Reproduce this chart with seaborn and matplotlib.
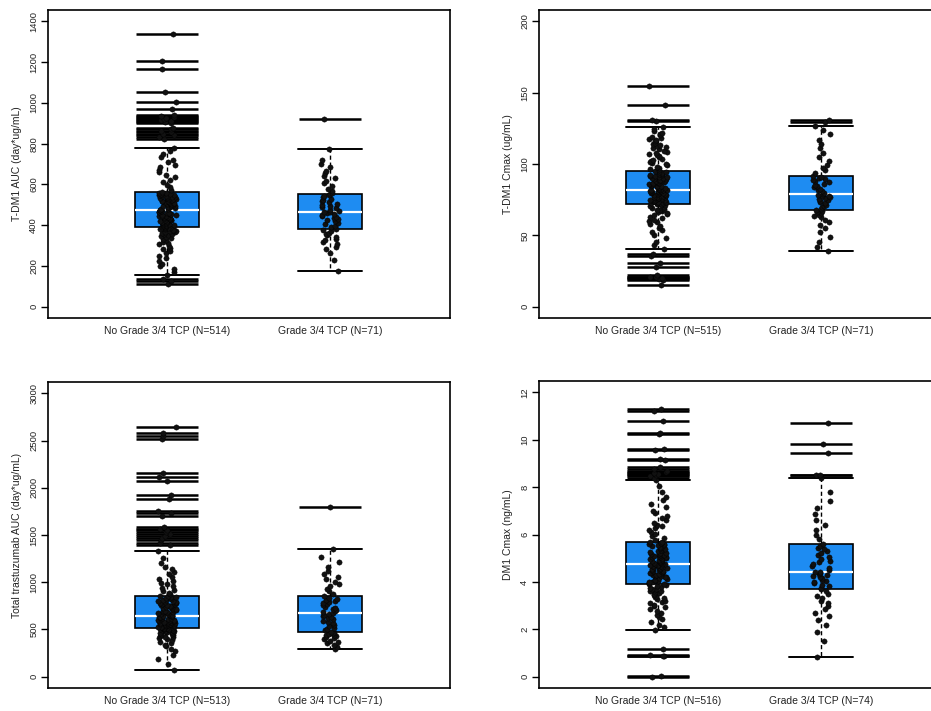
import numpy as np
import pandas as pd
import matplotlib
matplotlib.use("Agg")
import matplotlib.pyplot as plt
import seaborn as sns

# ---------------- data ----------------
groups_auc = ["No Grade 3/4 TCP (N=514)", "Grade 3/4 TCP (N=71)"]
groups_cmax = ["No Grade 3/4 TCP (N=515)", "Grade 3/4 TCP (N=71)"]
groups_tt = ["No Grade 3/4 TCP (N=513)", "Grade 3/4 TCP (N=71)"]
groups_dm1 = ["No Grade 3/4 TCP (N=516)", "Grade 3/4 TCP (N=74)"]

ylabel_auc = "T-DM1 AUC (day*ug/mL)"
ylabel_cmax = "T-DM1 Cmax (ug/mL)"
ylabel_tt = "Total trastuzumab AUC (day*ug/mL)"
ylabel_dm1 = "DM1 Cmax (ng/mL)"

yticks_auc = [0, 200, 400, 600, 800, 1000, 1200, 1400]
yticks_cmax = [0, 50, 100, 150, 200]
yticks_tt = [0, 500, 1000, 1500, 2000, 2500, 3000]
yticks_dm1 = [0, 2, 4, 6, 8, 10, 12]

auc_no = [
    112, 124, 135, 155, 168, 183, 197, 211, 224, 237,
    249, 261, 272, 281, 290, 298, 305, 313, 319, 326,
    331, 337, 342, 346, 351, 355, 358, 362, 365, 368,
    371, 373, 376, 378, 380, 382, 384, 386, 388, 391,
    393, 395, 397, 399, 401, 403, 405, 407, 409, 411,
    413, 415, 417, 419, 421, 423, 425, 427, 429, 431,
    433, 435, 437, 439, 441, 443, 445, 447, 449, 451,
    453, 455, 457, 459, 461, 463, 465, 467, 469, 472,
    475, 478, 481, 484, 487, 490, 492, 494, 496, 498,
    500, 502, 504, 506, 508, 510, 512, 514, 516, 518,
    520, 522, 524, 526, 528, 530, 532, 534, 536, 538,
    540, 542, 544, 546, 548, 550, 552, 554, 556, 559,
    562, 572, 585, 597, 610, 622, 636, 648, 661, 672,
    686, 697, 711, 722, 736, 748, 763, 780,
    825, 832, 840, 848, 855, 862, 870, 878, 900, 905,
    910, 915, 920, 925, 930, 935, 940, 972, 1003, 1054,
    1165, 1206, 1340,
]
auc_g34 = [
    173, 228, 262, 281, 295, 305, 318, 326, 334, 341,
    350, 356, 363, 370, 377, 383, 390, 398, 405, 412,
    418, 424, 430, 436, 441, 446, 450, 454, 458, 462,
    465, 470, 476, 482, 488, 494, 500, 506, 512, 518,
    524, 530, 536, 542, 547, 552, 558, 566, 578, 592,
    606, 618, 630, 642, 655, 668, 685, 700, 720, 772,
    920,
]

cmax_no = [
    15, 19, 19.5, 20, 20.5, 21, 22, 28, 30.5, 35.5,
    37, 40.5, 43, 45.5, 48, 50, 52, 53.5, 55, 56.5,
    58, 59, 60, 61, 62, 63, 64, 64.8, 65.5, 66.2,
    66.8, 67.4, 68, 68.6, 69.2, 69.8, 70.4, 70.9, 71.4, 71.8,
    72.1, 72.4, 72.6, 72.9, 73.2, 73.4, 73.7, 74.0, 74.2, 74.5,
    74.8, 75.0, 75.3, 75.6, 75.9, 76.1, 76.4, 76.7, 77.0, 77.2,
    77.5, 77.8, 78.0, 78.3, 78.6, 78.9, 79.1, 79.4, 79.7, 80.0,
    80.2, 80.4, 80.6, 80.8, 81.0, 81.2, 81.4, 81.5, 81.7, 81.8,
    81.9, 82.2, 82.5, 82.8, 83.1, 83.4, 83.7, 84.0, 84.3, 84.6,
    84.9, 85.2, 85.5, 85.8, 86.1, 86.4, 86.7, 87.0, 87.3, 87.6,
    87.9, 88.2, 88.5, 88.8, 89.1, 89.4, 89.7, 90.0, 90.3, 90.6,
    90.9, 91.3, 91.7, 92.1, 92.5, 92.9, 93.3, 93.7, 94.1, 94.6,
    95.0, 95.8, 96.6, 97.4, 98.2, 99.0, 99.8, 100.6, 101.4, 102.2,
    103.0, 103.8, 104.6, 105.4, 106.2, 107.0, 107.8, 108.6, 109.4, 110.2,
    111.0, 111.8, 112.6, 113.4, 114.2, 115.0, 115.8, 116.6, 117.4, 118.2,
    119.0, 120.0, 121.0, 122.0, 123.0, 124.2, 125.8,
    130, 131, 141.5, 155,
]
cmax_g34 = [
    38.8, 41.5, 45, 49, 52, 55, 57.5, 59.5, 61, 62.5,
    63.5, 64.5, 65.5, 66.3, 67.0, 67.6, 68.5, 69.5, 70.5, 71.5,
    72.3, 73.1, 73.9, 74.6, 75.3, 76.0, 76.7, 77.3, 77.9, 78.5,
    79.1, 80.0, 80.9, 81.8, 82.7, 83.6, 84.5, 85.4, 86.3, 87.2,
    88.0, 88.8, 89.6, 90.4, 91.2, 91.9, 93.5, 95.5, 97.5, 99.5,
    102, 105, 108, 111, 114, 117, 121, 124, 126.5, 129.2,
    131,
]

tt_no = [
    66, 135, 190, 232, 268, 296, 320, 340, 357, 372,
    385, 396, 406, 415, 423, 430, 437, 443, 449, 455,
    460, 465, 470, 474, 478, 482, 486, 489, 492, 495,
    498, 501, 504, 506, 508, 510, 512, 514, 516, 518,
    519, 522, 525, 528, 531, 534, 537, 540, 543, 546,
    549, 552, 555, 558, 561, 564, 567, 570, 573, 576,
    579, 582, 585, 588, 591, 594, 597, 600, 604, 608,
    612, 616, 620, 624, 628, 632, 635, 638, 641, 643,
    645, 650, 655, 660, 665, 670, 675, 680, 685, 690,
    695, 700, 705, 710, 715, 720, 725, 730, 735, 740,
    745, 750, 755, 760, 765, 770, 775, 780, 786, 792,
    798, 804, 810, 816, 822, 828, 834, 840, 846, 851,
    856, 872, 888, 905, 922, 940, 958, 976, 995, 1015,
    1035, 1058, 1082, 1108, 1135, 1165, 1200, 1260, 1330,
    1389, 1420, 1445, 1470, 1490, 1510, 1530, 1550, 1565, 1580,
    1705, 1730, 1750, 1880, 1920, 2070, 2110, 2160, 2520, 2545,
    2575, 2640,
]
tt_g34 = [
    298, 318, 335, 352, 368, 382, 395, 407, 418, 428,
    437, 445, 452, 459, 466, 477, 490, 505, 520, 535,
    550, 565, 580, 594, 608, 620, 632, 644, 655, 663,
    670, 682, 694, 706, 718, 730, 742, 754, 766, 778,
    790, 802, 813, 824, 835, 856, 880, 905, 930, 955,
    980, 1005, 1030, 1060, 1090, 1120, 1160, 1210, 1270, 1354,
    1800,
]

dm1_no = [
    0.0, 0.02, 0.85, 0.88, 0.92, 1.18, 1.95, 2.08, 2.2, 2.32,
    2.43, 2.53, 2.62, 2.7, 2.78, 2.85, 2.92, 2.98, 3.04, 3.1,
    3.16, 3.21, 3.26, 3.31, 3.36, 3.4, 3.44, 3.48, 3.52, 3.56,
    3.6, 3.63, 3.66, 3.69, 3.72, 3.75, 3.78, 3.82, 3.86, 3.9,
    3.92, 3.95, 3.98, 4.01, 4.04, 4.07, 4.1, 4.13, 4.16, 4.19,
    4.22, 4.24, 4.26, 4.28, 4.3, 4.32, 4.34, 4.36, 4.38, 4.4,
    4.42, 4.44, 4.46, 4.48, 4.5, 4.52, 4.54, 4.56, 4.58, 4.6,
    4.62, 4.64, 4.66, 4.68, 4.7, 4.71, 4.72, 4.73, 4.75, 4.76,
    4.77, 4.79, 4.81, 4.83, 4.85, 4.87, 4.89, 4.91, 4.93, 4.95,
    4.97, 4.99, 5.01, 5.03, 5.05, 5.07, 5.09, 5.11, 5.13, 5.15,
    5.17, 5.19, 5.21, 5.24, 5.27, 5.3, 5.33, 5.36, 5.39, 5.42,
    5.45, 5.48, 5.51, 5.54, 5.57, 5.6, 5.62, 5.64, 5.66, 5.68,
    5.7, 5.78, 5.86, 5.94, 6.02, 6.1, 6.18, 6.26, 6.34, 6.42,
    6.5, 6.6, 6.7, 6.8, 6.9, 7.0, 7.15, 7.3, 7.45, 7.6,
    7.8, 8.05, 8.3,
    8.40, 8.45, 8.5, 8.55, 8.6, 8.65, 8.7, 8.78, 8.85, 9.15,
    9.2, 9.55, 9.63, 10.24, 10.28, 10.8, 11.2, 11.3,
]
dm1_g34 = [
    0.84, 1.5, 1.9, 2.2, 2.4, 2.55, 2.7, 2.85, 3.0, 3.1,
    3.2, 3.3, 3.4, 3.5, 3.6, 3.68, 3.75, 3.82, 3.88, 3.94,
    4.0, 4.05, 4.1, 4.15, 4.2, 4.25, 4.3, 4.34, 4.37, 4.4,
    4.42, 4.5, 4.58, 4.66, 4.74, 4.82, 4.9, 4.98, 5.06, 5.14,
    5.22, 5.3, 5.38, 5.45, 5.52, 5.6, 5.8, 6.0, 6.2, 6.4,
    6.6, 6.85, 7.1, 7.4, 7.8, 8.38, 8.5, 8.52, 9.46, 9.8,
    10.72,
]

# ---------------- styling ----------------
sns.set_theme(style="white")
plt.rcParams["font.family"] = ["Liberation Sans", "DejaVu Sans"]

BOX_BLUE = "#1e8cf2"
W, H = 931, 711
fig = plt.figure(figsize=(W / 100, H / 100), dpi=100)


def add_ax(left, top, width, height):
    return fig.add_axes([left / W, 1 - (top + height) / H, width / W, height / H])


panels = [
    dict(pos=(48, 10, 402, 308), vals=(auc_no, auc_g34), groups=groups_auc,
         ylabel=ylabel_auc, yticks=yticks_auc),
    dict(pos=(539, 10, 402, 308), vals=(cmax_no, cmax_g34), groups=groups_cmax,
         ylabel=ylabel_cmax, yticks=yticks_cmax),
    dict(pos=(48, 382, 402, 306), vals=(tt_no, tt_g34), groups=groups_tt,
         ylabel=ylabel_tt, yticks=yticks_tt),
    dict(pos=(539, 381, 402, 307), vals=(dm1_no, dm1_g34), groups=groups_dm1,
         ylabel=ylabel_dm1, yticks=yticks_dm1),
]

np.random.seed(3)
for p in panels:
    ax = add_ax(*p["pos"])
    v0, v1 = p["vals"]
    g0, g1 = p["groups"]
    df = pd.DataFrame({"group": [g0] * len(v0) + [g1] * len(v1),
                       "value": list(v0) + list(v1)})
    sns.boxplot(data=df, x="group", y="value", order=p["groups"], ax=ax,
                width=0.39, color=BOX_BLUE, saturation=1, linecolor="black",
                linewidth=1.2, whis=1.5, fliersize=45,
                flierprops=dict(marker="_", markersize=45, markeredgewidth=1.8,
                                markeredgecolor="black"),
                medianprops=dict(color="white", linewidth=1.6),
                whiskerprops=dict(linestyle=(0, (3, 2)), linewidth=1.0),
                capprops=dict(linewidth=1.4),
                capwidths=0.39)
    sns.stripplot(data=df, x="group", y="value", order=p["groups"], ax=ax,
                  jitter=0.055, size=3.8, color="#111111", linewidth=0.3,
                  edgecolor="black", zorder=4)

    yt = p["yticks"]
    span = yt[-1] - yt[0]
    ax.set_ylim(yt[0] - 0.04 * span, yt[-1] + 0.04 * span)
    ax.set_xlim(-0.73, 1.735)
    ax.set_yticks(yt)
    ax.set_yticklabels([str(t) for t in yt])
    ax.set_xlabel("")
    ax.set_ylabel(p["ylabel"], fontsize=7.5, labelpad=5, color="#222222")
    for s in ax.spines.values():
        s.set_visible(True)
        s.set_color("black")
        s.set_linewidth(1.2)
    ax.tick_params(axis="y", direction="out", length=5, width=1.0,
                   color="black", labelsize=6.8, labelrotation=90, pad=2,
                   labelcolor="#222222", left=True)
    for lbl in ax.get_yticklabels():
        lbl.set_va("center")
    ax.tick_params(axis="x", length=0, labelsize=7.5, pad=6,
                   labelcolor="#222222")
    ax.grid(False)

fig.savefig("out.png", dpi=100)
